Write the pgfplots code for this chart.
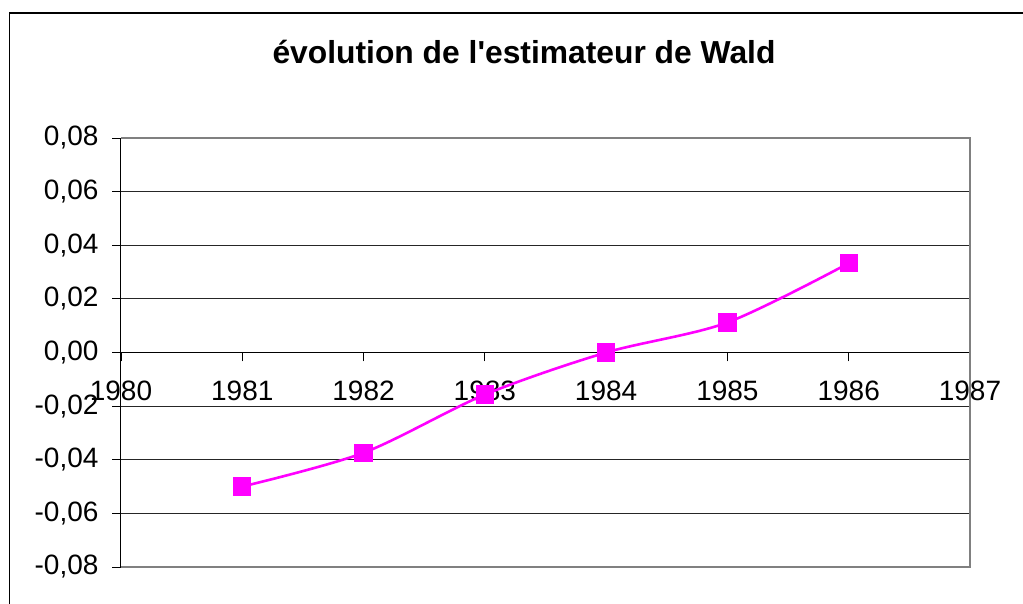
\documentclass[border=0pt]{standalone}
\usepackage{fontspec}
\setmainfont{Liberation Sans}
\usepackage{pgfplots}
\pgfplotsset{compat=1.18}
\definecolor{mag}{RGB}{255,0,255}
\begin{document}
\begin{tikzpicture}[x=1pt,y=1pt]
\useasboundingbox (0,0) rectangle (1023,603);
\draw[line width=1.3pt] (9.5,-5) -- (9.5,590) -- (1030,590);
\node[font=\fontsize{31.8}{36}\bfseries\selectfont] at (524,551) {évolution de l\textquotesingle estimateur de Wald};
\begin{axis}[
  at={(121pt,36pt)}, anchor=south west,
  scale only axis, width=849pt, height=429pt,
  xmin=1980, xmax=1987, ymin=-0.08, ymax=0.08,
  axis x line=middle, axis y line=left,
  axis line style={-, line width=1pt, black},
  hide obscured x ticks=false,
  scaled y ticks=false,
  xtick={1980,1981,1982,1983,1984,1985,1986,1987},
  ytick={-0.08,-0.06,-0.04,-0.02,0,0.02,0.04,0.06,0.08},
  ymajorgrids, major grid style={black!85, line width=0.9pt},
  tick align=outside,
  major tick length=9pt,
  tick style={black, line width=0.9pt},
  /pgf/number format/assume math mode=true,
  tick label style={font=\fontsize{28}{32}\selectfont},
  y tick label style={/pgf/number format/fixed, /pgf/number format/fixed zerofill, /pgf/number format/precision=2, /pgf/number format/use comma, xshift=-10pt},
  x tick label style={/pgf/number format/1000 sep={}, yshift=-16pt},
  clip=false,
]
\draw[gray, line width=1.8pt] (rel axis cs:0,1) -- (rel axis cs:1,1) -- (rel axis cs:1,0) -- (rel axis cs:0,0);
\addplot[color=mag, line width=2.6pt, smooth, mark=square*, mark size=7.8pt, mark options={solid}]
  coordinates {(1981,-0.0500)(1982,-0.0374)(1983,-0.0157)(1984,0.0000)(1985,0.0112)(1986,0.0333)};
\end{axis}
\end{tikzpicture}
\end{document}
